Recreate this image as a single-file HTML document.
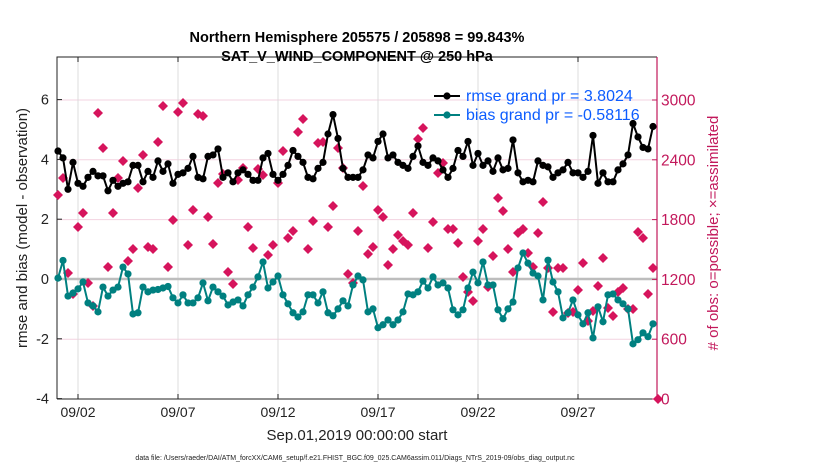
<!DOCTYPE html>
<html><head><meta charset="utf-8"><style>
body{margin:0;background:#fff;}
svg{display:block;font-family:"Liberation Sans",sans-serif;}
</style></head><body>
<svg id="chart" width="830" height="470">
<g id="grid"></g><g id="axes"></g><g id="series"></g><g id="legendg"></g>
</svg>
<script>
const dayLabels=["09/02","09/07","09/12","09/17","09/22","09/27"];
const dayOffsets=[1,6,11,16,21,26];
const leftTicks=[-4,-2,0,2,4,6];
const rightTicks=[0,600,1200,1800,2400,3000];
const rmse=[4.28,4.05,3.0,3.9,3.2,3.1,3.4,3.6,3.45,3.45,2.95,3.3,3.1,3.2,3.25,3.8,3.8,3.25,3.6,3.4,3.95,3.6,3.85,3.2,3.5,3.55,3.7,4.1,3.4,3.35,
4.1,4.15,4.35,3.4,3.55,3.25,3.55,3.65,3.5,3.3,3.3,4.05,4.2,3.5,3.3,3.5,3.8,4.3,4.1,3.9,3.4,3.35,3.7,3.9,4.85,5.5,4.7,3.7,3.4,3.4,
3.4,3.65,4.15,4.05,4.6,4.85,4.05,4.15,3.9,3.8,3.7,4.1,4.45,3.9,3.8,4.05,3.95,3.65,3.4,3.7,4.3,4.1,4.6,3.8,4.2,3.8,3.95,3.6,4.05,3.65,
3.7,4.65,3.55,3.25,3.3,3.25,3.95,3.8,3.75,3.4,3.55,3.65,3.9,3.55,3.55,3.4,3.6,4.8,3.2,3.55,3.25,3.25,3.65,3.85,4.15,5.2,4.75,4.4,4.35,5.1];
const bias=[0.03,0.62,-0.57,-0.47,-0.33,-0.1,-0.8,-0.9,-1.1,-0.27,-0.57,-0.37,-0.27,0.4,0.17,-1.17,-1.13,-0.27,-0.43,-0.37,-0.35,-0.3,-0.25,-0.63,-0.8,-0.53,-0.8,-0.8,-0.63,-0.13,
-0.73,-0.27,-0.43,-0.57,-0.87,-0.77,-0.7,-0.9,-0.53,-0.27,0.07,0.57,-0.3,-0.1,0.1,-0.53,-0.83,-1.13,-1.27,-1.1,-0.53,-0.53,-0.8,-0.43,-1.13,-1.23,-1.0,-0.73,-0.9,-0.2,
0.1,-0.03,-1.1,-1.0,-1.63,-1.53,-1.37,-1.53,-1.37,-1.1,-0.5,-0.53,-0.43,-0.07,-0.3,0.07,-0.2,-0.13,-0.3,-1.03,-1.2,-1.03,-0.3,0.23,-0.13,0.57,-0.2,-0.2,-1.03,-1.33,
-1.0,-0.77,0.37,0.87,0.53,0.2,0.1,-0.7,0.63,-0.1,-0.43,-1.3,-1.13,-0.7,-1.2,-1.5,-1.13,-1.97,-0.93,-1.43,-0.53,-0.5,-0.7,-0.83,-1.0,-2.17,-2.03,-1.8,-1.93,-1.5];
const nobs=[2047,2217,1264,1053,1726,1866,1164,933,2870,2518,1324,1866,2217,2388,1385,1505,2117,2448,1525,1505,2579,2940,1324,1796,2880,2970,1545,1896,2860,2840,
1826,1555,2167,2257,1274,1154,2197,2318,1726,1515,2308,2247,1445,1545,2167,2488,1615,1686,2679,2809,1505,1786,2569,2579,1726,1936,2518,2318,1254,1164,
1686,2137,1455,1525,1896,1826,1344,1505,1645,1585,1545,1866,2609,2719,1515,1776,2267,2368,1706,1706,1565,1224,1073,983,1585,1706,1124,1435,2017,1886,
1505,1274,1665,1706,1465,1324,1665,1976,1314,873,1314,1314,863,873,1094,1364,783,883,1134,1415,913,833,1073,1114,903,903,1675,1615,1053,1314,0];

const L=57,R=657,T=57,B=399;
const X0=58,DX=5;
const xs=i=>X0+DX*i;
const yL=v=>279-v*29.9;
const yR=v=>399-v*299/3000;
const NS="http://www.w3.org/2000/svg";
function mk(tag,attrs,parent,text){const e=document.createElementNS(NS,tag);for(const k in attrs)e.setAttribute(k,attrs[k]);if(text!==undefined)e.textContent=text;parent.appendChild(e);return e;}
const grid=document.getElementById('grid'),axes=document.getElementById('axes'),ser=document.getElementById('series'),lg=document.getElementById('legendg');

rightTicks.forEach(v=>{if(v===0)return;const g=mk('line',{x1:L,x2:R,y1:yR(v),y2:yR(v),stroke:'#f3d3e0','stroke-width':1},grid);

});
dayOffsets.forEach(d=>{const g=mk('line',{x1:xs(d*4),x2:xs(d*4),y1:T,y2:B,stroke:'#dcdcdc','stroke-width':1},grid);

});
const z=mk('line',{x1:L,x2:R,y1:yL(0),y2:yL(0),stroke:'#bdbdbd','stroke-width':2.5},grid);



const fr=mk('path',{d:`M${L},${B}L${L},${T}L${R},${T}M${L},${B}L${R},${B}`,fill:'none',stroke:'#222','stroke-width':1},axes);


const ra=mk('line',{x1:R,x2:R,y1:T,y2:B,stroke:'#c2185b','stroke-width':1.2},axes);



leftTicks.forEach(v=>{const y=yL(v);mk('line',{x1:L,x2:L+5,y1:y,y2:y,stroke:'#222'},axes);
const t=mk('text',{x:L-8,y:y+5,'text-anchor':'end','font-size':14.5,fill:'#222'},axes,String(v));

});
rightTicks.forEach(v=>{const y=yR(v);mk('line',{x1:R-5,x2:R,y1:y,y2:y,stroke:'#c2185b'},axes);
const t=mk('text',{x:R+4,y:y+5.5,'font-size':15.5,fill:'#c2185b'},axes,String(v));

});
dayOffsets.forEach((d,k)=>{const x=xs(d*4);mk('line',{x1:x,x2:x,y1:B,y2:B-5,stroke:'#222'},axes);mk('line',{x1:x,x2:x,y1:T,y2:T+5,stroke:'#222'},axes);
const t=mk('text',{x:x,y:417,'text-anchor':'middle','font-size':14,fill:'#222'},axes,dayLabels[k]);

});

const rp=ser.appendChild(document.createElementNS(NS,'g'));


nobs.forEach((v,i)=>{const x=xs(i),y=yR(v);const p=mk('path',{d:`M${x},${y-5}L${x+5},${y}L${x},${y+5}L${x-5},${y}Z`,fill:'#d6145c'},rp);

});
function line(arr,color,name){const g=ser.appendChild(document.createElementNS(NS,'g'));


mk('polyline',{points:arr.map((v,i)=>xs(i)+','+yL(v)).join(' '),fill:'none',stroke:color,'stroke-width':2},g);
arr.forEach((v,i)=>{const c=mk('circle',{cx:xs(i),cy:yL(v),r:3.6,fill:color},g);

});}
line(rmse,'#000','rmse-series');
line(bias,'#008080','bias-series');

[[ '#000','rmse grand pr = 3.8024',101],['#008080','bias grand pr = -0.58116',120]].forEach(([c,txt,y])=>{
mk('line',{x1:434,x2:460,y1:y-5,y2:y-5,stroke:c,'stroke-width':2},lg);mk('circle',{cx:447,cy:y-5,r:3.6,fill:c},lg);
const t=mk('text',{x:466,y:y,'font-size':16,fill:'#0b5cff'},lg,txt);

});
</script>
<svg style="position:absolute;left:0;top:0" width="830" height="470">
<text x="357" y="42" text-anchor="middle" font-size="14.5" font-weight="bold" font-family="Liberation Sans,sans-serif">Northern Hemisphere 205575 / 205898 = 99.843%</text>
<text x="357" y="61" text-anchor="middle" font-size="14.5" font-weight="bold" font-family="Liberation Sans,sans-serif">SAT_V_WIND_COMPONENT @ 250 hPa</text>
<text transform="translate(27,228) rotate(-90)" text-anchor="middle" font-size="15" font-family="Liberation Sans,sans-serif" fill="#222">rmse and bias (model - observation)</text>
<text transform="translate(718,233) rotate(-90)" text-anchor="middle" font-size="15" font-family="Liberation Sans,sans-serif" fill="#c2185b"># of obs: o=possible; ×=assimilated</text>
<text x="357" y="440" text-anchor="middle" font-size="15" font-family="Liberation Sans,sans-serif" fill="#222">Sep.01,2019 00:00:00 start</text>
<text x="355" y="460" text-anchor="middle" font-size="7" font-family="Liberation Sans,sans-serif" fill="#222">data file: /Users/raeder/DAI/ATM_forcXX/CAM6_setup/f.e21.FHIST_BGC.f09_025.CAM6assim.011/Diags_NTrS_2019-09/obs_diag_output.nc</text>
</svg>
</body></html>
